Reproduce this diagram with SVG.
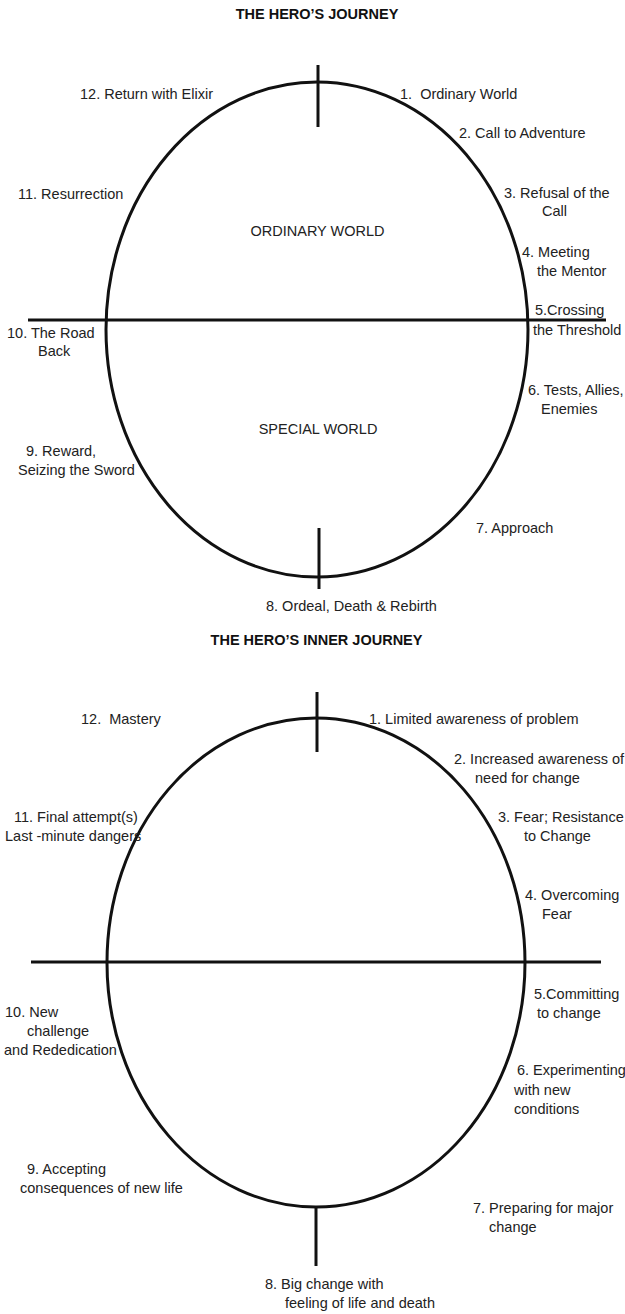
<svg xmlns="http://www.w3.org/2000/svg" width="625" height="1314" viewBox="0 0 625 1314">
<style>
.shape{fill:none;stroke:#111;stroke-width:3}
text{font-family:"Liberation Sans",Arial,sans-serif;font-size:14.5px;fill:#222}
.title{font-weight:bold;font-size:14.5px;fill:#111}
.mid{text-anchor:middle}
</style>
<rect width="625" height="1314" fill="#fff"/>

<!-- Top diagram -->
<g id="outer-journey-shapes">
  <ellipse class="shape" cx="317" cy="329.5" rx="211" ry="247.5"/>
  <line class="shape" x1="28" y1="320" x2="606" y2="320"/>
  <line class="shape" x1="318" y1="65" x2="318" y2="127"/>
  <line class="shape" x1="319" y1="528" x2="319" y2="589"/>
</g>
<g id="title-outer"><text class="title mid" x="317" y="19">THE HERO’S JOURNEY</text></g>
<g id="o-ordinary"><text class="mid" x="317.5" y="236">ORDINARY WORLD</text></g>
<g id="o-special"><text class="mid" x="318" y="434">SPECIAL WORLD</text></g>
<g id="o1"><text x="400" y="98.5" xml:space="preserve">1.  Ordinary World</text></g>
<g id="o2"><text x="459" y="138">2. Call to Adventure</text></g>
<g id="o3"><text x="504" y="197.5">3. Refusal of the</text><text x="542" y="216">Call</text></g>
<g id="o4"><text x="522" y="257">4. Meeting</text><text x="537" y="276">the Mentor</text></g>
<g id="o5"><text x="535" y="315">5.Crossing</text><text x="533" y="335">the Threshold</text></g>
<g id="o6"><text x="528" y="394.5">6. Tests, Allies,</text><text x="541" y="413.5">Enemies</text></g>
<g id="o7"><text x="476" y="533">7. Approach</text></g>
<g id="o8"><text x="266" y="611">8. Ordeal, Death &amp; Rebirth</text></g>
<g id="o9"><text x="26" y="456">9. Reward,</text><text x="18" y="475">Seizing the Sword</text></g>
<g id="o10"><text x="7" y="337.5">10. The Road</text><text x="38" y="356">Back</text></g>
<g id="o11"><text x="18" y="198.5">11. Resurrection</text></g>
<g id="o12"><text x="80" y="98.5">12. Return with Elixir</text></g>

<!-- Bottom diagram -->
<g id="inner-journey-shapes">
  <ellipse class="shape" cx="316" cy="962.5" rx="209" ry="244.5"/>
  <line class="shape" x1="31" y1="962" x2="601" y2="962"/>
  <line class="shape" x1="317" y1="692" x2="317" y2="752"/>
  <line class="shape" x1="316" y1="1207" x2="316" y2="1266"/>
</g>
<g id="title-inner"><text class="title mid" x="316.5" y="645">THE HERO’S INNER JOURNEY</text></g>
<g id="i1"><text x="369" y="724">1. Limited awareness of problem</text></g>
<g id="i2"><text x="454" y="763.5">2. Increased awareness of</text><text x="475" y="782.5">need for change</text></g>
<g id="i3"><text x="498" y="822">3. Fear; Resistance</text><text x="524" y="841">to Change</text></g>
<g id="i4"><text x="525" y="900">4. Overcoming</text><text x="542" y="918.5">Fear</text></g>
<g id="i5"><text x="534" y="998.5">5.Committing</text><text x="537" y="1017.5">to change</text></g>
<g id="i6"><text x="517" y="1075">6. Experimenting</text><text x="514" y="1094.5">with new</text><text x="514" y="1114">conditions</text></g>
<g id="i7"><text x="473" y="1212.5">7. Preparing for major</text><text x="489" y="1232">change</text></g>
<g id="i8"><text x="265" y="1288.5">8. Big change with</text><text x="285" y="1308">feeling of life and death</text></g>
<g id="i9"><text x="27" y="1173.5">9. Accepting</text><text x="20" y="1192.5">consequences of new life</text></g>
<g id="i10"><text x="5" y="1017">10. New</text><text x="27" y="1036">challenge</text><text x="4" y="1055">and Rededication</text></g>
<g id="i11"><text x="14" y="822">11. Final attempt(s)</text><text x="5" y="841">Last -minute dangers</text></g>
<g id="i12"><text x="81" y="724" xml:space="preserve">12.  Mastery</text></g>
</svg>
